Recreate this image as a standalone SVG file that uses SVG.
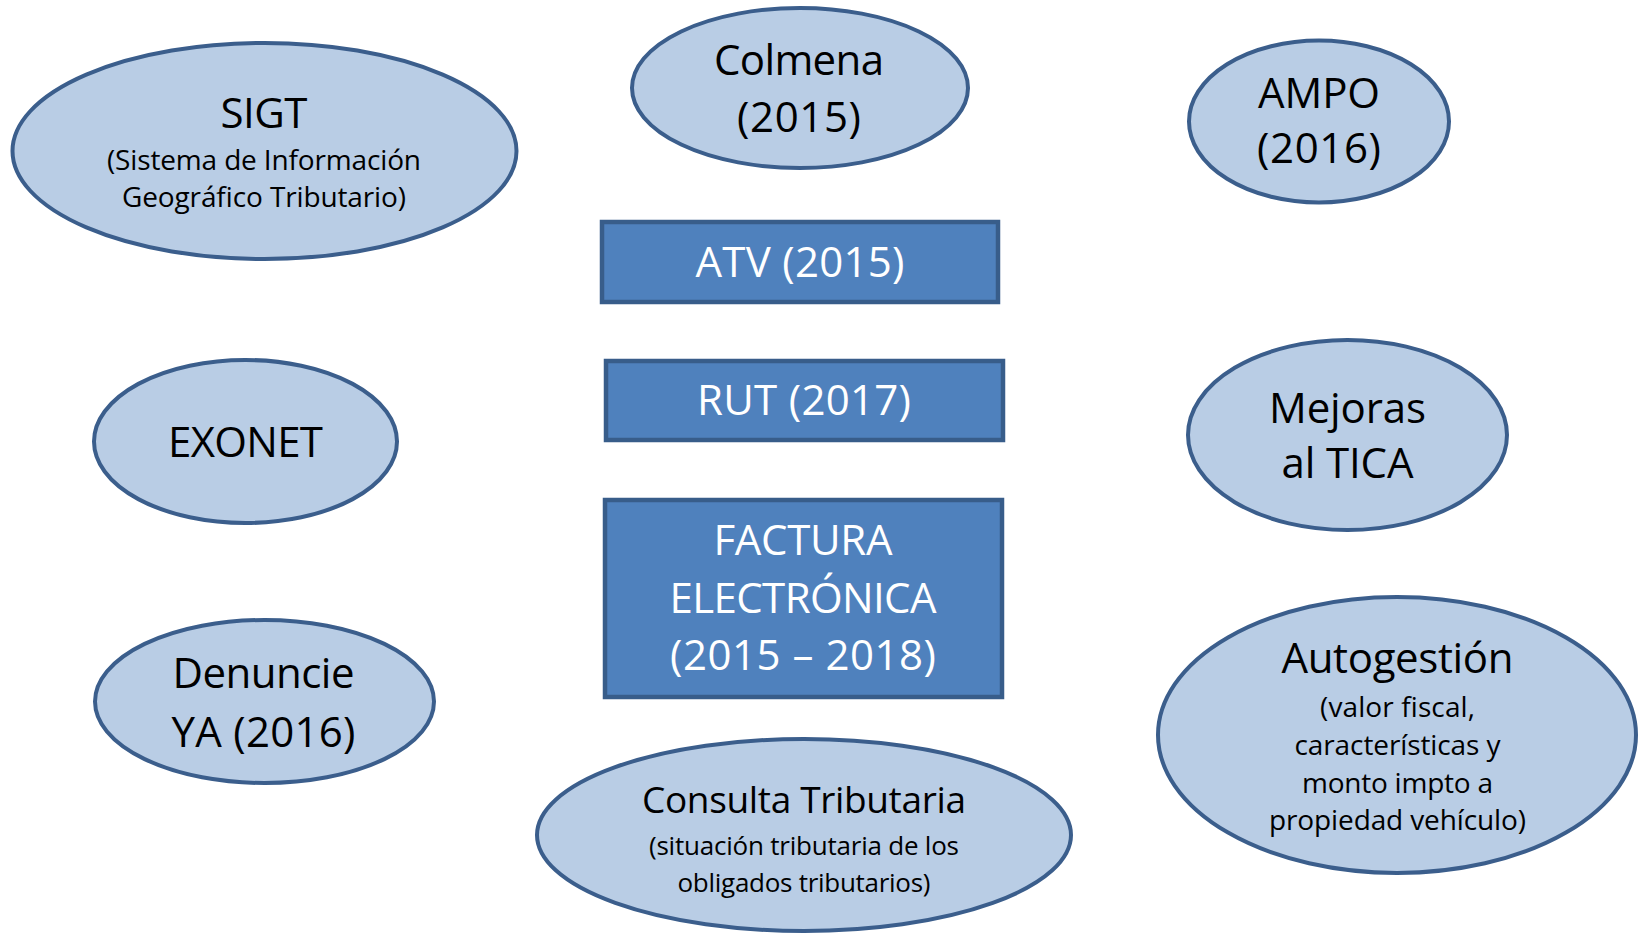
<svg xmlns="http://www.w3.org/2000/svg" width="1639" height="933" viewBox="0 0 1639 933">
<style>
.ell{fill:#B9CDE5;stroke:#3B5E8C;stroke-width:4}
.box{fill:#4F81BD;stroke:#385D8A;stroke-width:4.5}
text{font-family:"Open Sans","Noto Sans",sans-serif;text-anchor:middle}
.t{font-size:42px;fill:#000}
.s{font-size:28px;fill:#000}
.w{font-size:42px;fill:#fff}
.ct{font-size:37px;fill:#000}
.cs{font-size:26px;fill:#000}
</style>
<rect width="1639" height="933" fill="#fff"/>
<g id="connectors"></g>
<g id="sigt">
<ellipse class="ell" cx="264.5" cy="151" rx="252" ry="108"/>
<text class="t" x="264" y="128" textLength="87">SIGT</text>
<text class="s" x="264" y="170" textLength="314">(Sistema de Información</text>
<text class="s" x="264" y="207" textLength="284">Geográfico Tributario)</text>
</g>
<g id="colmena">
<ellipse class="ell" cx="800" cy="88" rx="168" ry="80"/>
<text class="t" x="799" y="75" textLength="170">Colmena</text>
<text class="t" x="799" y="132" textLength="124">(2015)</text>
</g>
<g id="ampo">
<ellipse class="ell" cx="1319" cy="121.5" rx="130" ry="81"/>
<text class="t" x="1319" y="108" textLength="122">AMPO</text>
<text class="t" x="1319" y="163" textLength="124">(2016)</text>
</g>
<g id="atv">
<rect class="box" x="602" y="222" width="396" height="80"/>
<text class="w" x="800" y="277" textLength="209">ATV (2015)</text>
</g>
<g id="rut">
<rect class="box" x="606" y="361" width="397" height="79"/>
<text class="w" x="804" y="415" textLength="214">RUT (2017)</text>
</g>
<g id="factura">
<rect class="box" x="605" y="500" width="397" height="197"/>
<text class="w" x="803" y="555" textLength="179">FACTURA</text>
<text class="w" x="803" y="613" textLength="267">ELECTRÓNICA</text>
<text class="w" x="803" y="670" textLength="266">(2015 – 2018)</text>
</g>
<g id="exonet">
<ellipse class="ell" cx="245.5" cy="441.5" rx="151.5" ry="81.5"/>
<text class="t" x="245.5" y="457" textLength="155">EXONET</text>
</g>
<g id="mejoras">
<ellipse class="ell" cx="1347.5" cy="435" rx="159.5" ry="95"/>
<text class="t" x="1347.5" y="423" textLength="157">Mejoras</text>
<text class="t" x="1347.5" y="478" textLength="132">al TICA</text>
</g>
<g id="denuncie">
<ellipse class="ell" cx="264.5" cy="701.5" rx="169.5" ry="81.5"/>
<text class="t" x="263.5" y="688" textLength="182">Denuncie</text>
<text class="t" x="263.5" y="747" textLength="184">YA (2016)</text>
</g>
<g id="consulta">
<ellipse class="ell" cx="804" cy="835" rx="267" ry="96"/>
<text class="ct" x="804" y="813" textLength="324">Consulta Tributaria</text>
<text class="cs" x="804" y="855" textLength="310">(situación tributaria de los</text>
<text class="cs" x="804" y="892" textLength="253">obligados tributarios)</text>
</g>
<g id="autogestion">
<ellipse class="ell" cx="1397" cy="735" rx="239" ry="138"/>
<text class="t" x="1397.5" y="673" textLength="232">Autogestión</text>
<text class="s" x="1397.5" y="717" textLength="155">(valor fiscal,</text>
<text class="s" x="1397.5" y="755" textLength="206">características y</text>
<text class="s" x="1397.5" y="793" textLength="191">monto impto a</text>
<text class="s" x="1397.5" y="830" textLength="257">propiedad vehículo)</text>
</g>
</svg>
